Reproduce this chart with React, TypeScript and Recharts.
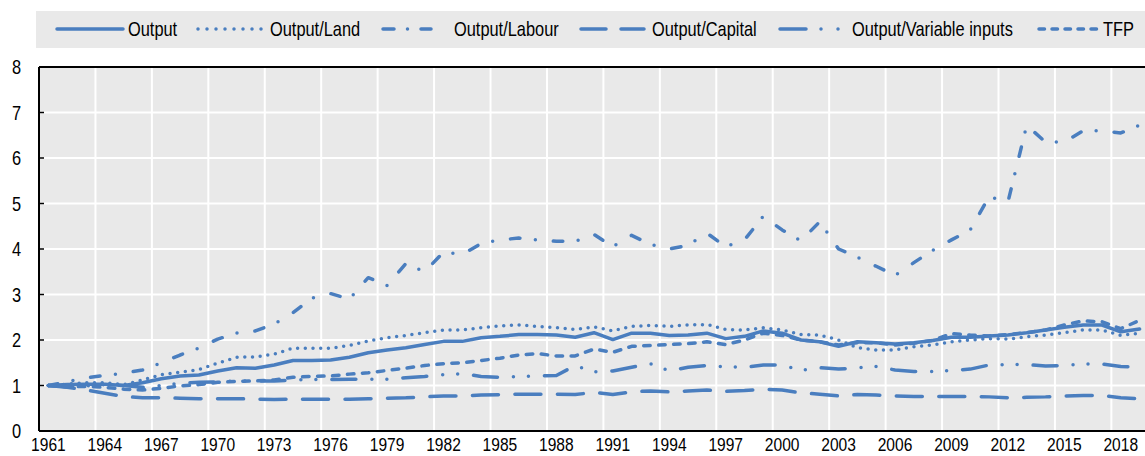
import { LineChart, Line, XAxis, YAxis, CartesianGrid, ReferenceLine } from "recharts";

const years = [
  1961, 1962, 1963, 1964, 1965, 1966, 1967, 1968, 1969, 1970,
  1971, 1972, 1973, 1974, 1975, 1976, 1977, 1978, 1979, 1980,
  1981, 1982, 1983, 1984, 1985, 1986, 1987, 1988, 1989, 1990,
  1991, 1992, 1993, 1994, 1995, 1996, 1997, 1998, 1999, 2000,
  2001, 2002, 2003, 2004, 2005, 2006, 2007, 2008, 2009, 2010,
  2011, 2012, 2013, 2014, 2015, 2016, 2017, 2018, 2019,
];

const output = [
  1.0, 1.02, 1.03, 1.03, 1.0, 1.06, 1.15, 1.21, 1.23, 1.32,
  1.39, 1.38, 1.45, 1.55, 1.55, 1.56, 1.62, 1.72, 1.78, 1.83,
  1.9, 1.97, 1.97, 2.05, 2.08, 2.12, 2.12, 2.11, 2.06, 2.16,
  2.01, 2.15, 2.15, 2.1, 2.11, 2.15, 2.03, 2.08, 2.2, 2.15,
  2.0, 1.96, 1.86, 1.96, 1.94, 1.91, 1.94, 1.99, 2.06, 2.06,
  2.09, 2.11, 2.16, 2.22, 2.28, 2.33, 2.33, 2.18, 2.24,
];

const outputLand = [
  1.0, 1.03, 1.06, 1.06, 1.02, 1.12, 1.24, 1.29, 1.35, 1.49,
  1.62, 1.63, 1.69, 1.82, 1.82, 1.82, 1.88, 1.98, 2.05, 2.1,
  2.16, 2.22, 2.22, 2.27, 2.31, 2.33, 2.3, 2.27, 2.23, 2.29,
  2.2, 2.3, 2.32, 2.3, 2.33, 2.34, 2.23, 2.22, 2.27, 2.22,
  2.12, 2.11, 2.0, 1.83, 1.78, 1.78, 1.85, 1.89, 1.96, 2.0,
  2.03, 2.02, 2.07, 2.11, 2.16, 2.22, 2.22, 2.1, 2.15,
];

const outputLabour = [
  1.0, 1.08, 1.17, 1.22, 1.27, 1.34, 1.5, 1.67, 1.82, 2.02,
  2.15, 2.2, 2.35, 2.6, 2.92, 3.02, 2.9, 3.37, 3.2, 3.68,
  3.5, 3.93, 3.88, 4.12, 4.2, 4.24, 4.2, 4.17, 4.17, 4.32,
  4.05, 4.3, 4.1, 4.0, 4.08, 4.35, 4.05, 4.2, 4.72, 4.42,
  4.18, 4.6, 4.0, 3.82, 3.62, 3.42, 3.7, 3.97, 4.2, 4.42,
  5.15, 5.03, 6.72, 6.35, 6.35, 6.6, 6.6, 6.55, 6.72,
];

const outputCapital = [
  1.0, 0.96, 0.9, 0.83, 0.76, 0.73, 0.73, 0.72, 0.71, 0.71,
  0.71, 0.7, 0.69, 0.7, 0.7, 0.7, 0.7, 0.71, 0.72, 0.73,
  0.75, 0.77, 0.77, 0.79, 0.8, 0.81, 0.81, 0.81, 0.8, 0.85,
  0.8, 0.86, 0.88, 0.86, 0.88, 0.9, 0.87, 0.89, 0.92, 0.9,
  0.84, 0.81, 0.77, 0.8, 0.79, 0.77, 0.76, 0.76, 0.76, 0.76,
  0.75, 0.73, 0.74, 0.75, 0.77, 0.78, 0.78, 0.73, 0.71,
];

const outputVariable = [
  1.0, 0.97, 0.99, 1.02, 1.0, 0.96, 1.0, 1.05, 1.07, 1.08,
  1.1, 1.1, 1.1, 1.12, 1.13, 1.13, 1.14, 1.14, 1.14, 1.17,
  1.2, 1.24, 1.26, 1.2, 1.18, 1.2, 1.21, 1.22, 1.44, 1.3,
  1.32, 1.4, 1.48, 1.32, 1.4, 1.44, 1.41, 1.4, 1.45, 1.45,
  1.33, 1.39, 1.36, 1.39, 1.42, 1.34, 1.31, 1.31, 1.33, 1.36,
  1.45, 1.46, 1.46, 1.43, 1.44, 1.47, 1.47, 1.42, 1.4,
];

const tfp = [
  1.0, 0.97, 0.98, 0.96, 0.92, 0.9, 0.94, 0.99, 1.02, 1.07,
  1.09, 1.1, 1.12, 1.18, 1.2, 1.21, 1.25, 1.28, 1.33, 1.38,
  1.44, 1.48, 1.5, 1.55, 1.6, 1.67, 1.7, 1.65, 1.65, 1.8,
  1.73, 1.86, 1.88, 1.9, 1.92, 1.96, 1.9, 2.0, 2.15, 2.1,
  2.0, 1.96, 1.89, 1.94, 1.94, 1.89, 1.93, 1.99, 2.14, 2.11,
  2.09, 2.12, 2.16, 2.22, 2.33, 2.42, 2.4, 2.25, 2.43,
];

const xTicks = [1961, 1964, 1967, 1970, 1973, 1976, 1979, 1982, 1985, 1988, 1991, 1994, 1997, 2000, 2003, 2006, 2009, 2012, 2015, 2018];
const yTicks = [0, 1, 2, 3, 4, 5, 6, 7, 8];

const BLUE = "#4a7ebf";
const FONT = '"Liberation Sans", Arial, sans-serif';
// the original uses a narrow face; squeeze the regular one
const NARROW = 0.82;

const series = [
  { key: "output", name: "Output", values: output, dash: undefined, legendDash: undefined, lx: 55, lw: 68, tx: 128 },
  { key: "land", name: "Output/Land", values: outputLand, dash: "0 7.7", legendDash: "0 9", lx: 196, lw: 67, tx: 270 },
  { key: "labour", name: "Output/Labour", values: outputLabour, dash: "9.5 15.5 0 18", legendDash: "11 13.5 0 13.5 11 60", lx: 381, lw: 50, tx: 454 },
  { key: "capital", name: "Output/Capital", values: outputCapital, dash: "26 16.5", legendDash: "25 15 23 60", lx: 579, lw: 66, tx: 652 },
  { key: "variable", name: "Output/Variable inputs", values: outputVariable, dash: "24 16 0 15 0 16", legendDash: "26 15 0 17 0 60", lx: 778, lw: 62, tx: 852 },
  { key: "tfp", name: "TFP", values: tfp, dash: "6.5 8.5", legendDash: "5.5 7.5", lx: 1037, lw: 62, tx: 1103 },
];

const data = years.map((year, i) => {
  const row: any = { year };
  series.forEach((s) => (row[s.key] = s.values[i]));
  return row;
});

function NarrowText({ x, y, anchor, dy, size, children }: any) {
  return (
    <g transform={`translate(${x},${y})`}>
      <text transform={`scale(${NARROW},1)`} textAnchor={anchor} dy={dy} fontFamily={FONT} fontSize={size} fill="#000">
        {children}
      </text>
    </g>
  );
}

const XTick = (props: any) => (
  <NarrowText x={props.x} y={props.y} anchor="middle" dy="0.71em" size={19}>
    {props.payload.value}
  </NarrowText>
);

const YTick = (props: any) => (
  <NarrowText x={props.x} y={props.y} anchor="end" dy="0.36em" size={20}>
    {props.payload.value}
  </NarrowText>
);

function ChartLegend() {
  return (
    <svg width={1145} height={50} style={{ position: "absolute", left: 0, top: 0 }}>
      <rect x={36} y={11} width={1109} height={37} fill="#e9e9e9" />
      {series.map((s) => (
        <g key={s.key}>
          <line
            x1={s.lx + 2}
            x2={s.lx + s.lw}
            y1={29}
            y2={29}
            stroke={BLUE}
            strokeWidth={3.5}
            strokeLinecap="round"
            strokeDasharray={s.legendDash}
          />
          <NarrowText x={s.tx} y={36} anchor="start" size={20}>
            {s.name}
          </NarrowText>
        </g>
      ))}
    </svg>
  );
}

export default function App() {
  return (
    <div style={{ position: "absolute", left: 0, top: 0, width: 1145, height: 456, overflow: "hidden", background: "#fff" }}>
      <ChartLegend />
      <div style={{ position: "absolute", left: 0, top: 0 }}>
        <LineChart width={1149} height={456} data={data} margin={{ top: 67, right: 0, bottom: 0, left: 0 }}>
          <CartesianGrid vertical={false} fill="#e9e9e9" stroke="#ffffff" strokeWidth={2} />
          {xTicks.slice(1).map((t) => (
            <ReferenceLine key={t} x={t - 0.5} stroke="#ffffff" strokeWidth={2} />
          ))}
          <ReferenceLine y={8} stroke="#000" strokeWidth={2} />
          <XAxis
            dataKey="year"
            type="number"
            domain={[1960.5, 2019.5]}
            ticks={xTicks}
            interval={0}
            height={25}
            tickLine={false}
            tickSize={0}
            tickMargin={7}
            axisLine={{ stroke: "#000", strokeWidth: 2 }}
            tick={<XTick />}
          />
          <YAxis
            type="number"
            domain={[0, 8]}
            ticks={yTicks}
            interval={0}
            width={39}
            tickSize={-5}
            tickMargin={23}
            tickLine={{ stroke: "#000", strokeWidth: 1.5 }}
            axisLine={{ stroke: "#000", strokeWidth: 2 }}
            tick={<YTick />}
          />
          {series.map((s) => (
            <Line
              key={s.key}
              dataKey={s.key}
              name={s.name}
              type="linear"
              stroke={BLUE}
              strokeWidth={3.5}
              strokeLinecap="round"
              strokeLinejoin="round"
              strokeDasharray={s.dash}
              dot={false}
              activeDot={false}
              isAnimationActive={false}
            />
          ))}
        </LineChart>
      </div>
    </div>
  );
}
